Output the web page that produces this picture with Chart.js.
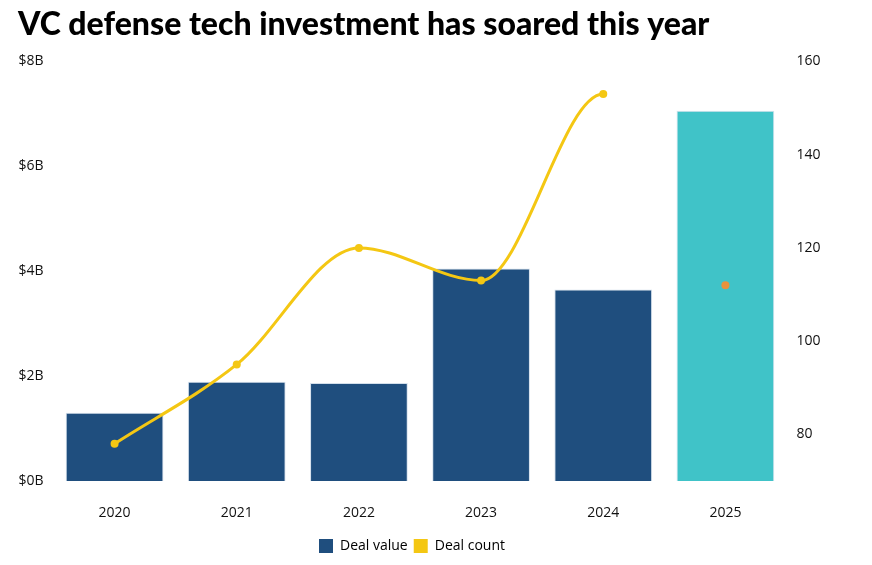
<!DOCTYPE html>
<html>
<head>
<meta charset="utf-8">
<script src="https://cdn.jsdelivr.net/npm/chart.js@4.4.1/dist/chart.umd.min.js"></script>
<style>
  html, body { margin: 0; padding: 0; background: #ffffff; }
  #wrap { width: 872px; height: 565px; position: relative; }
</style>
</head>
<body>
<div id="wrap"><canvas id="c" width="872" height="565"></canvas></div>
<script>
const titleText = "VC defense tech investment has soared this year";
const categories = ["2020", "2021", "2022", "2023", "2024", "2025"];
const dealValue = [1.3, 1.89, 1.87, 4.05, 3.65, 7.06];
const dealCount = [78, 95, 120, 113, 153, 112];
const leftTicks = [0, 2, 4, 6, 8];
const rightTicks = [80, 100, 120, 140, 160];

const NAVY = "#1F4E7E";
const TEAL = "#40C3C8";
const YELLOW = "#F4C713";
const ORANGE = "#E8923C";
const TICK_FONT = { family: "'Open Sans', sans-serif", size: 14 };

const barColors = categories.map((c, i) => i === categories.length - 1 ? TEAL : NAVY);
const pointColors = categories.map((c, i) => i === categories.length - 1 ? ORANGE : YELLOW);

const legendShift = {
  id: "legendShift",
  afterLayout(chart) {
    if (chart.legend) {
      chart.legend.left -= 33;
      chart.legend.right -= 33;
    }
  }
};

new Chart(document.getElementById("c"), {
  data: {
    labels: categories,
    datasets: [
      {
        type: "bar",
        label: "Deal value",
        data: dealValue,
        yAxisID: "y",
        backgroundColor: barColors,
        borderColor: "rgba(200,215,230,0.8)",
        borderWidth: 1,
        categoryPercentage: 1.0,
        barPercentage: 0.8,
        order: 1
      },
      {
        type: "line",
        label: "Deal count",
        data: dealCount,
        yAxisID: "y1",
        borderColor: YELLOW,
        backgroundColor: YELLOW,
        borderWidth: 3,
        cubicInterpolationMode: "monotone",
        pointRadius: 4,
        pointBackgroundColor: pointColors,
        pointBorderColor: pointColors,
        pointBorderWidth: 0,
        segment: {
          borderColor: ctx => ctx.p1DataIndex === categories.length - 1 ? "rgba(0,0,0,0)" : YELLOW
        },
        order: 0
      }
    ]
  },
  plugins: [legendShift],
  options: {
    responsive: false,
    animation: false,
    layout: { padding: { left: 18, right: 0, top: 0, bottom: 2 } },
    plugins: {
      title: {
        display: true,
        text: titleText,
        align: "start",
        color: "#000000",
        font: { family: "Lato, sans-serif", size: 32, weight: 900 },
        padding: { top: 5, bottom: 18 }
      },
      legend: {
        position: "bottom",
        labels: {
          boxWidth: 14,
          boxHeight: 14,
          padding: 6,
          color: "#111111",
          font: TICK_FONT,
          generateLabels: chart => chart.data.datasets.map((ds, i) => ({
            text: ds.label,
            fillStyle: i === 0 ? NAVY : YELLOW,
            strokeStyle: i === 0 ? NAVY : YELLOW,
            lineWidth: 0,
            datasetIndex: i,
            hidden: false
          }))
        }
      },
      tooltip: { enabled: false }
    },
    scales: {
      x: {
        grid: { display: false },
        border: { display: false },
        afterFit: axis => { axis.height = 52; },
        ticks: { color: "#111111", font: TICK_FONT, padding: 16 }
      },
      y: {
        position: "left",
        min: 0,
        max: 8,
        grid: { display: false },
        border: { display: false },
        afterBuildTicks: axis => { axis.ticks = leftTicks.map(v => ({ value: v })); },
        afterFit: axis => { axis.width = 35.5; },
        ticks: {
          color: "#111111",
          font: TICK_FONT,
          padding: 2,
          callback: v => "$" + v + "B"
        }
      },
      y1: {
        position: "right",
        min: 70,
        max: 160,
        grid: { display: false },
        border: { display: false },
        afterBuildTicks: axis => { axis.ticks = rightTicks.map(v => ({ value: v })); },
        afterFit: axis => { axis.width = 85.5; },
        ticks: { color: "#111111", font: TICK_FONT, padding: 2 }
      }
    }
  }
});
</script>
</body>
</html>
